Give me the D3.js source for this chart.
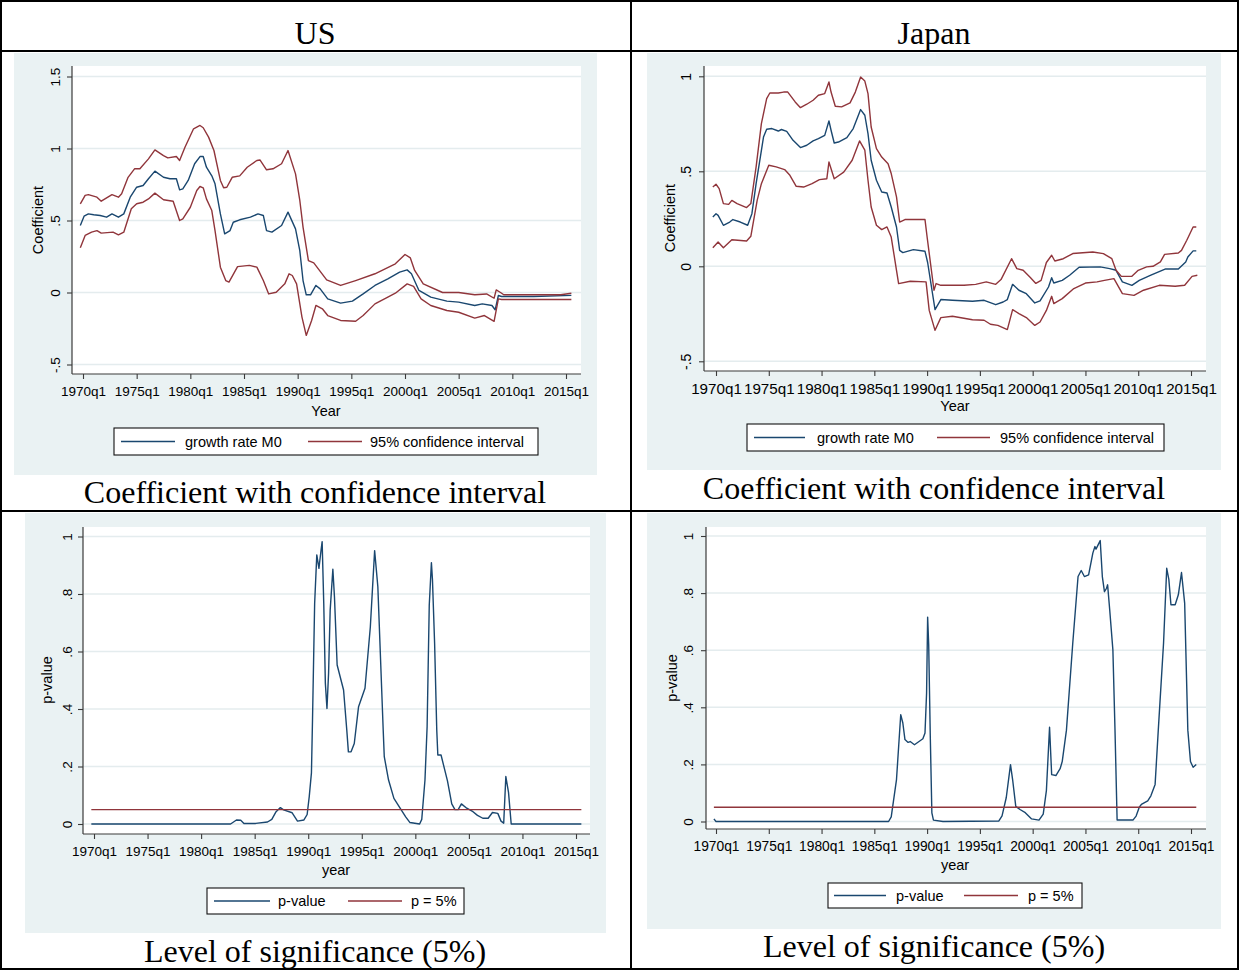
<!DOCTYPE html>
<html>
<head>
<meta charset="utf-8">
<script src="https://cdn.jsdelivr.net/npm/d3@7"></script>
<style>
  body { margin: 0; background: #fff; }
  svg { display: block; }
</style>
</head>
<body>
<svg id="chart" width="1239" height="970"></svg>
<script>
// ---------- data (decimal year, value) ----------
const tickYears = [1970, 1975, 1980, 1985, 1990, 1995, 2000, 2005, 2010, 2015];
const tickLabels = ["1970q1", "1975q1", "1980q1", "1985q1", "1990q1", "1995q1", "2000q1", "2005q1", "2010q1", "2015q1"];

const coefTicksUS = [-0.5, 0, 0.5, 1, 1.5];
const coefTickLabelsUS = ["-.5", "0", ".5", "1", "1.5"];
const coefTicksJP = [-0.5, 0, 0.5, 1];
const coefTickLabelsJP = ["-.5", "0", ".5", "1"];
const pTicks = [0, 0.2, 0.4, 0.6, 0.8, 1];
const pTickLabels = ["0", ".2", ".4", ".6", ".8", "1"];

const pThreshold = 0.05;

// US: rolling coefficient on M0 growth and its 95% band
const usCoef = [
  [1969.75, 0.465], [1970.1, 0.53], [1970.5, 0.546], [1971.0, 0.54], [1971.6, 0.535], [1972.2, 0.523],
  [1972.7, 0.546], [1973.3, 0.523], [1973.8, 0.546], [1974.4, 0.662], [1975.0, 0.731], [1975.6, 0.743],
  [1976.1, 0.79], [1976.7, 0.843], [1977.5, 0.80], [1978.1, 0.79], [1978.7, 0.79], [1979.0, 0.713],
  [1979.3, 0.72], [1979.8, 0.778], [1980.4, 0.894], [1980.9, 0.944], [1981.2, 0.944], [1981.5, 0.87],
  [1982.0, 0.81], [1982.3, 0.755], [1982.8, 0.546], [1983.2, 0.407], [1983.7, 0.43], [1984.0, 0.488],
  [1984.6, 0.505], [1985.6, 0.523], [1986.3, 0.546], [1986.8, 0.535], [1987.1, 0.43], [1987.6, 0.419],
  [1988.5, 0.465], [1989.1, 0.558], [1989.8, 0.442], [1990.2, 0.29], [1990.5, 0.083], [1990.8, -0.016],
  [1991.2, -0.016], [1991.7, 0.049], [1992.1, 0.025], [1992.8, -0.044], [1994.0, -0.074], [1995.1, -0.06],
  [1996.1, -0.01], [1997.2, 0.049], [1998.4, 0.095], [1999.5, 0.141], [2000.2, 0.157], [2000.6, 0.13],
  [2001.3, 0.014], [2002.4, -0.032], [2003.9, -0.06], [2005.0, -0.067], [2006.5, -0.09], [2007.2, -0.079],
  [2008.1, -0.09], [2008.4, -0.12], [2008.7, -0.021], [2009.0, -0.028], [2012.0, -0.028], [2015.5, -0.02]
];
const usUpper = [
  [1969.75, 0.616], [1970.2, 0.674], [1970.5, 0.68], [1971.3, 0.662], [1971.7, 0.634], [1972.7, 0.68],
  [1973.3, 0.662], [1973.6, 0.685], [1974.2, 0.80], [1974.8, 0.859], [1975.3, 0.859], [1976.1, 0.928],
  [1976.7, 0.99], [1977.5, 0.951], [1977.9, 0.935], [1978.7, 0.944], [1979.0, 0.917], [1979.5, 1.009],
  [1980.3, 1.137], [1980.9, 1.16], [1981.2, 1.144], [1981.7, 1.079], [1982.2, 0.986], [1982.8, 0.778],
  [1983.1, 0.727], [1983.4, 0.731], [1983.9, 0.80], [1984.6, 0.81], [1985.3, 0.87], [1986.2, 0.917],
  [1986.5, 0.92], [1987.1, 0.852], [1987.7, 0.859], [1988.5, 0.894], [1989.1, 0.986], [1989.8, 0.824],
  [1990.2, 0.639], [1990.5, 0.454], [1991.0, 0.222], [1991.5, 0.206], [1992.7, 0.088], [1994.0, 0.049],
  [1995.4, 0.083], [1997.2, 0.13], [1999.1, 0.199], [2000.0, 0.264], [2000.5, 0.24], [2000.9, 0.153],
  [2001.7, 0.06], [2003.5, 0.0], [2005.0, 0.0], [2006.5, -0.016], [2007.6, -0.01], [2008.3, -0.04],
  [2008.5, 0.018], [2008.9, 0.0], [2009.2, -0.016], [2014.5, -0.016], [2015.5, -0.005]
];
const usLower = [
  [1969.75, 0.31], [1970.2, 0.396], [1970.8, 0.419], [1971.3, 0.43], [1971.7, 0.412], [1972.8, 0.419],
  [1973.3, 0.40], [1973.8, 0.419], [1974.5, 0.581], [1975.0, 0.616], [1975.6, 0.627], [1976.1, 0.65],
  [1976.7, 0.69], [1977.5, 0.644], [1978.4, 0.634], [1979.0, 0.50], [1979.3, 0.512], [1980.0, 0.592],
  [1980.6, 0.708], [1980.9, 0.736], [1981.2, 0.727], [1981.5, 0.65], [1982.0, 0.569], [1982.3, 0.43],
  [1982.8, 0.176], [1983.3, 0.083], [1983.6, 0.072], [1984.4, 0.18], [1985.5, 0.188], [1986.2, 0.176],
  [1986.8, 0.083], [1987.3, -0.01], [1988.0, 0.002], [1988.8, 0.06], [1989.2, 0.13], [1989.5, 0.118],
  [1989.9, 0.06], [1990.4, -0.171], [1990.8, -0.298], [1991.3, -0.194], [1991.7, -0.09], [1992.3, -0.113],
  [1992.8, -0.16], [1994.0, -0.194], [1995.4, -0.2], [1996.1, -0.16], [1997.2, -0.079], [1998.4, -0.032],
  [1999.1, -0.005], [2000.2, 0.06], [2000.8, 0.042], [2001.5, -0.044], [2002.4, -0.09], [2003.9, -0.125],
  [2005.0, -0.137], [2006.5, -0.178], [2007.4, -0.16], [2008.3, -0.2], [2008.7, -0.044], [2009.0, -0.049],
  [2015.5, -0.049]
];

// Japan: rolling coefficient on M0 growth and its 95% band
const jpCoef = [
  [1969.7, 0.26], [1970.0, 0.277], [1970.2, 0.268], [1970.7, 0.216], [1971.3, 0.233], [1971.6, 0.246],
  [1972.3, 0.233], [1973.0, 0.216], [1973.4, 0.277], [1973.8, 0.435], [1974.2, 0.575], [1974.5, 0.68],
  [1974.8, 0.721], [1975.3, 0.725], [1975.9, 0.712], [1976.2, 0.72], [1976.7, 0.71], [1977.3, 0.663],
  [1978.0, 0.625], [1978.6, 0.637], [1979.2, 0.66], [1979.7, 0.672], [1980.3, 0.689], [1980.7, 0.765],
  [1980.9, 0.716], [1981.2, 0.649], [1981.6, 0.654], [1982.4, 0.677], [1983.0, 0.725], [1983.7, 0.825],
  [1984.1, 0.795], [1984.4, 0.698], [1984.7, 0.558], [1985.2, 0.453], [1985.7, 0.391], [1986.2, 0.386],
  [1986.6, 0.312], [1987.1, 0.207], [1987.4, 0.084], [1987.7, 0.072], [1988.7, 0.088], [1989.8, 0.079],
  [1990.05, 0.02], [1990.75, -0.228], [1991.3, -0.175], [1992.4, -0.179], [1994.3, -0.184], [1995.4, -0.179],
  [1996.5, -0.202], [1997.2, -0.188], [1997.6, -0.175], [1998.1, -0.095], [1998.7, -0.126], [1999.4, -0.144],
  [2000.2, -0.193], [2000.7, -0.182], [2001.5, -0.109], [2001.8, -0.06], [2002.0, -0.088], [2002.8, -0.074],
  [2003.5, -0.047], [2004.4, -0.005], [2006.4, -0.003], [2007.3, -0.012], [2007.9, -0.021], [2008.5, -0.082],
  [2009.4, -0.1], [2010.1, -0.074], [2011.2, -0.047], [2012.6, -0.014], [2013.8, -0.014], [2014.5, 0.023],
  [2014.7, 0.049], [2015.2, 0.081], [2015.5, 0.081]
];
const jpUpper = [
  [1969.7, 0.417], [1970.0, 0.432], [1970.3, 0.409], [1970.7, 0.33], [1971.2, 0.326], [1971.5, 0.347],
  [1972.0, 0.33], [1972.9, 0.309], [1973.3, 0.33], [1973.8, 0.523], [1974.3, 0.751], [1974.8, 0.883],
  [1975.1, 0.912], [1975.9, 0.912], [1976.4, 0.917], [1976.8, 0.917], [1977.5, 0.865], [1978.0, 0.835],
  [1978.6, 0.853], [1979.2, 0.874], [1979.7, 0.90], [1980.3, 0.909], [1980.7, 0.97], [1980.9, 0.917],
  [1981.3, 0.842], [1981.9, 0.839], [1982.7, 0.86], [1983.2, 0.917], [1983.7, 0.996], [1984.1, 0.975],
  [1984.4, 0.909], [1984.7, 0.733], [1985.2, 0.619], [1985.7, 0.575], [1986.3, 0.54], [1986.6, 0.488],
  [1987.1, 0.365], [1987.4, 0.233], [1987.9, 0.246], [1989.8, 0.246], [1990.0, 0.154], [1990.65, -0.126],
  [1990.85, -0.091], [1991.3, -0.1], [1993.5, -0.1], [1994.6, -0.095], [1995.6, -0.082], [1996.5, -0.095],
  [1997.0, -0.07], [1998.0, 0.04], [1998.5, -0.012], [1999.1, -0.021], [1999.8, -0.06], [2000.3, -0.09],
  [2000.8, -0.074], [2001.3, 0.02], [2001.8, 0.058], [2002.1, 0.028], [2002.9, 0.04], [2003.8, 0.067],
  [2005.7, 0.075], [2006.7, 0.067], [2007.5, 0.04], [2007.9, -0.021], [2008.4, -0.053], [2009.4, -0.053],
  [2010.0, -0.021], [2010.8, -0.003], [2011.4, 0.0], [2012.1, 0.023], [2012.5, 0.063], [2013.8, 0.07],
  [2014.1, 0.084], [2014.6, 0.137], [2015.2, 0.207], [2015.5, 0.207]
];
const jpLower = [
  [1969.7, 0.098], [1970.2, 0.128], [1970.7, 0.098], [1971.5, 0.14], [1972.9, 0.133], [1973.3, 0.158],
  [1973.9, 0.347], [1974.3, 0.435], [1975.0, 0.532], [1975.7, 0.523], [1976.5, 0.509], [1977.0, 0.479],
  [1977.6, 0.421], [1978.3, 0.417], [1979.1, 0.435], [1979.8, 0.456], [1980.5, 0.461], [1980.7, 0.549],
  [1981.2, 0.461], [1982.1, 0.496], [1982.9, 0.558], [1983.6, 0.66], [1984.1, 0.611], [1984.4, 0.453],
  [1984.7, 0.312], [1985.2, 0.216], [1985.7, 0.193], [1986.2, 0.207], [1986.6, 0.154], [1987.1, -0.021],
  [1987.3, -0.091], [1988.4, -0.079], [1989.9, -0.082], [1990.2, -0.232], [1990.75, -0.337], [1991.3, -0.27],
  [1992.4, -0.263], [1994.3, -0.281], [1995.4, -0.284], [1996.0, -0.305], [1996.7, -0.311], [1997.6, -0.333],
  [1998.1, -0.228], [1998.7, -0.249], [1999.4, -0.27], [2000.2, -0.311], [2000.7, -0.293], [2001.3, -0.232],
  [2001.8, -0.158], [2002.0, -0.196], [2002.8, -0.17], [2003.9, -0.117], [2005.0, -0.088], [2006.1, -0.082],
  [2006.8, -0.074], [2007.7, -0.065], [2008.5, -0.144], [2009.6, -0.153], [2010.5, -0.126], [2012.0, -0.1],
  [2013.5, -0.105], [2014.4, -0.1], [2015.1, -0.053], [2015.6, -0.047]
];

// p-values of the M0 coefficient
const usPValue = [
  [1969.75, 0.0], [1982.75, 0.0], [1983.3, 0.014], [1983.7, 0.013], [1984.0, 0.002], [1985.1, 0.002],
  [1986.2, 0.007], [1986.6, 0.016], [1987.0, 0.043], [1987.4, 0.057], [1987.7, 0.049], [1988.5, 0.039],
  [1989.0, 0.01], [1989.6, 0.014], [1989.9, 0.033], [1990.1, 0.097], [1990.3, 0.178], [1990.4, 0.362],
  [1990.6, 0.768], [1990.8, 0.936], [1991.0, 0.889], [1991.2, 0.953], [1991.3, 0.982], [1991.45, 0.768],
  [1991.6, 0.489], [1991.75, 0.402], [1991.9, 0.524], [1992.05, 0.744], [1992.3, 0.886], [1992.45, 0.79],
  [1992.7, 0.553], [1993.3, 0.466], [1993.6, 0.327], [1993.75, 0.251], [1994.0, 0.251], [1994.3, 0.28],
  [1994.7, 0.408], [1995.3, 0.472], [1995.8, 0.686], [1996.2, 0.951], [1996.5, 0.825], [1997.0, 0.327],
  [1997.1, 0.234], [1997.5, 0.153], [1998.0, 0.089], [1998.4, 0.066], [1999.1, 0.025], [1999.5, 0.005],
  [2000.4, 0.0], [2000.6, 0.016], [2000.9, 0.153], [2001.1, 0.338], [2001.3, 0.762], [2001.5, 0.909],
  [2001.6, 0.849], [2001.8, 0.628], [2002.0, 0.327], [2002.1, 0.24], [2002.4, 0.24], [2003.0, 0.15],
  [2003.4, 0.07], [2003.7, 0.05], [2004.0, 0.05], [2004.3, 0.07], [2004.8, 0.055], [2005.3, 0.045],
  [2005.8, 0.03], [2006.3, 0.02], [2006.8, 0.02], [2007.2, 0.04], [2007.7, 0.037], [2008.0, 0.01],
  [2008.25, 0.003], [2008.45, 0.165], [2008.7, 0.11], [2008.95, 0.0], [2015.5, 0.0]
];
const jpPValue = [
  [1969.8, 0.009], [1970.0, 0.0], [1986.35, 0.0], [1986.6, 0.016], [1987.1, 0.147], [1987.5, 0.374],
  [1987.7, 0.345], [1987.9, 0.287], [1988.2, 0.277], [1988.4, 0.28], [1988.8, 0.269], [1989.6, 0.29],
  [1989.8, 0.31], [1989.95, 0.45], [1990.05, 0.716], [1990.15, 0.62], [1990.3, 0.3], [1990.45, 0.03],
  [1990.6, 0.005], [1991.5, 0.0], [1996.8, 0.002], [1997.1, 0.02], [1997.5, 0.084], [1997.9, 0.199],
  [1998.1, 0.147], [1998.4, 0.053], [1998.8, 0.042], [1999.3, 0.031], [1999.9, 0.009], [2000.6, 0.005],
  [2001.0, 0.026], [2001.3, 0.108], [2001.6, 0.33], [2001.8, 0.164], [2002.2, 0.161], [2002.6, 0.185],
  [2002.8, 0.21], [2003.2, 0.32], [2003.8, 0.625], [2004.3, 0.858], [2004.6, 0.879], [2004.9, 0.858],
  [2005.3, 0.864], [2005.7, 0.94], [2005.9, 0.963], [2006.0, 0.954], [2006.2, 0.969], [2006.4, 0.984],
  [2006.6, 0.858], [2006.8, 0.805], [2007.0, 0.817], [2007.1, 0.829], [2007.3, 0.741], [2007.6, 0.601],
  [2007.8, 0.32], [2008.0, 0.005], [2009.5, 0.005], [2009.8, 0.019], [2010.1, 0.05], [2010.3, 0.06],
  [2010.9, 0.072], [2011.2, 0.09], [2011.6, 0.13], [2011.9, 0.32], [2012.4, 0.625], [2012.7, 0.887],
  [2012.9, 0.848], [2013.1, 0.759], [2013.5, 0.759], [2013.8, 0.794], [2014.1, 0.872], [2014.4, 0.765],
  [2014.7, 0.32], [2014.95, 0.21], [2015.2, 0.19], [2015.5, 0.2]
];

// ---------- styling ----------
const NAVY = "#1a476f";
const MAROON = "#90353b";
const GRAPH_BG = "#eaf2f3";
const GRID = "#e4ecee";
const AXIS = "#3a3a3a";
const SANS = "'Liberation Sans', Arial, sans-serif";
const SERIF = "'Liberation Serif', 'Times New Roman', serif";
const SERIF_SIZE = "32px";

const svg = d3.select("#chart");

// table frame
const frame = svg.append("g").attr("stroke", "#000").attr("stroke-width", 2).attr("fill", "none");
frame.append("rect").attr("x", 1).attr("y", 1).attr("width", 1237).attr("height", 968);
frame.append("line").attr("x1", 631).attr("x2", 631).attr("y1", 0).attr("y2", 970);
frame.append("line").attr("x1", 0).attr("x2", 1239).attr("y1", 51).attr("y2", 51);
frame.append("line").attr("x1", 0).attr("x2", 1239).attr("y1", 511).attr("y2", 511);

svg.append("text").attr("x", 315).attr("y", 44).attr("text-anchor", "middle")
  .style("font-family", SERIF).style("font-size", SERIF_SIZE).text("US");
svg.append("text").attr("x", 934).attr("y", 44).attr("text-anchor", "middle")
  .style("font-family", SERIF).style("font-size", SERIF_SIZE).text("Japan");

function drawPanel(p) {
  const g = svg.append("g");
  g.append("rect").attr("x", p.bg[0]).attr("y", p.bg[1])
    .attr("width", p.bg[2] - p.bg[0]).attr("height", p.bg[3] - p.bg[1]).attr("fill", GRAPH_BG);
  const [px0, py0, px1, py1] = p.plot;
  g.append("rect").attr("x", px0).attr("y", py0).attr("width", px1 - px0).attr("height", py1 - py0).attr("fill", "#fff");

  const x = d3.scaleLinear().domain([tickYears[0], tickYears[tickYears.length - 1]]).range(p.xr);
  const y = d3.scaleLinear().domain([p.yTicks[0], p.yTicks[p.yTicks.length - 1]]).range(p.yr);

  // horizontal grid
  g.append("g").selectAll("line").data(p.yTicks).join("line")
    .attr("x1", px0).attr("x2", px1)
    .attr("y1", d => y(d)).attr("y2", d => y(d))
    .attr("stroke", GRID).attr("stroke-width", 1.5);

  // series
  const line = d3.line().x(d => x(d[0])).y(d => y(d[1]));
  p.series.forEach(s => {
    g.append("path").attr("d", line(s.data)).attr("fill", "none")
      .attr("stroke", s.color).attr("stroke-width", 1.4)
      .attr("stroke-linejoin", "round");
  });

  // y axis
  const yAxis = d3.axisLeft(y).tickValues(p.yTicks)
    .tickFormat((d, i) => p.yLabels[i]).tickSize(5).tickSizeOuter(0);
  const ya = g.append("g").attr("transform", `translate(${px0},0)`).call(yAxis);
  ya.select(".domain").remove();
  ya.selectAll(".tick line").attr("stroke", AXIS).attr("stroke-width", 1.1);
  ya.selectAll(".tick text")
    .attr("transform", "rotate(-90)").attr("x", 0).attr("y", -p.yLabelGap).attr("dy", 0)
    .attr("text-anchor", "middle")
    .style("font-family", SANS).style("font-size", p.yFont + "px").attr("fill", "#000");

  // x axis
  const xAxis = d3.axisBottom(x).tickValues(tickYears)
    .tickFormat((d, i) => tickLabels[i]).tickSize(5).tickSizeOuter(0);
  const xa = g.append("g").attr("transform", `translate(0,${py1})`).call(xAxis);
  xa.select(".domain").remove();
  xa.selectAll(".tick line").attr("stroke", AXIS).attr("stroke-width", 1.1);
  xa.selectAll(".tick text").attr("y", p.xLabelBase - py1).attr("dy", 0)
    .style("font-family", SANS).style("font-size", p.xFont + "px").attr("fill", "#000");

  // axis lines along the plot region
  g.append("line").attr("x1", px0).attr("x2", px0).attr("y1", py0).attr("y2", py1)
    .attr("stroke", AXIS).attr("stroke-width", 1.2);
  g.append("line").attr("x1", px0).attr("x2", px1).attr("y1", py1).attr("y2", py1)
    .attr("stroke", AXIS).attr("stroke-width", 1.2);

  // axis titles
  g.append("text").attr("x", p.xTitle[0]).attr("y", p.xTitle[1]).attr("text-anchor", "middle")
    .style("font-family", SANS).style("font-size", "14.5px").text(p.xTitleText);
  g.append("text").attr("transform", `translate(${p.yTitle[0]},${p.yTitle[1]}) rotate(-90)`)
    .attr("text-anchor", "middle")
    .style("font-family", SANS).style("font-size", "14.5px").text(p.yTitleText);

  // legend
  const [lx0, ly0, lx1, ly1] = p.legend.box;
  const lg = g.append("g");
  lg.append("rect").attr("x", lx0).attr("y", ly0).attr("width", lx1 - lx0).attr("height", ly1 - ly0)
    .attr("fill", "#fff").attr("stroke", "#111").attr("stroke-width", 1.1);
  const ly = (ly0 + ly1) / 2;
  p.legend.items.forEach((it, i) => {
    lg.append("line").attr("x1", it.x1).attr("x2", it.x2).attr("y1", ly).attr("y2", ly)
      .attr("stroke", p.series[i].color).attr("stroke-width", 1.4);
    lg.append("text").attr("x", it.tx).attr("y", ly + 5)
      .style("font-family", SANS).style("font-size", "14.5px").text(p.series[i].label);
  });

  // caption under the graph
  svg.append("text").attr("x", p.caption[0]).attr("y", p.caption[1]).attr("text-anchor", "middle")
    .style("font-family", SERIF).style("font-size", SERIF_SIZE).text(p.captionText);
}

const spanUS = [usPValue[0][0], usPValue[usPValue.length - 1][0]];
const spanJP = [jpPValue[0][0], jpPValue[jpPValue.length - 1][0]];

drawPanel({
  bg: [14, 53, 597, 475], plot: [72, 66, 581, 374], xr: [83, 566], yr: [364.5, 76.5],
  yTicks: coefTicksUS, yLabels: coefTickLabelsUS, yLabelGap: 12, yFont: 13.5,
  xFont: 13.5, xLabelBase: 396,
  xTitle: [326, 416], xTitleText: "Year", yTitle: [43, 220], yTitleText: "Coefficient",
  series: [
    { data: usCoef, color: NAVY, label: "growth rate M0" },
    { data: usUpper, color: MAROON, label: "95% confidence interval" },
    { data: usLower, color: MAROON, label: "" }
  ],
  legend: { box: [114, 428, 538, 455], items: [{ x1: 121, x2: 175, tx: 185 }, { x1: 308, x2: 362, tx: 370 }] },
  caption: [315, 503], captionText: "Coefficient with confidence interval"
});

drawPanel({
  bg: [647, 53, 1221, 470], plot: [704, 66, 1206, 371], xr: [716, 1191], yr: [361.3, 76.3],
  yTicks: coefTicksJP, yLabels: coefTickLabelsJP, yLabelGap: 13, yFont: 14,
  xFont: 15.2, xLabelBase: 393.5,
  xTitle: [955, 411], xTitleText: "Year", yTitle: [675, 218], yTitleText: "Coefficient",
  series: [
    { data: jpCoef, color: NAVY, label: "growth rate M0" },
    { data: jpUpper, color: MAROON, label: "95% confidence interval" },
    { data: jpLower, color: MAROON, label: "" }
  ],
  legend: { box: [747, 424, 1164, 451], items: [{ x1: 754, x2: 805, tx: 817 }, { x1: 937, x2: 990, tx: 1000 }] },
  caption: [934, 499], captionText: "Coefficient with confidence interval"
});

drawPanel({
  bg: [25, 513, 606, 933], plot: [83, 527, 590, 834], xr: [94, 576], yr: [824, 536.5],
  yTicks: pTicks, yLabels: pTickLabels, yLabelGap: 11, yFont: 13.5,
  xFont: 13.5, xLabelBase: 856,
  xTitle: [336, 875], xTitleText: "year", yTitle: [52, 680], yTitleText: "p-value",
  series: [
    { data: usPValue, color: NAVY, label: "p-value" },
    { data: spanUS.map(t => [t, pThreshold]), color: MAROON, label: "p = 5%" }
  ],
  legend: { box: [207, 888, 464, 914], items: [{ x1: 214, x2: 270, tx: 278 }, { x1: 348, x2: 402, tx: 411 }] },
  caption: [315, 962], captionText: "Level of significance (5%)"
});

drawPanel({
  bg: [647, 513, 1221, 929], plot: [706, 527, 1206, 829], xr: [716, 1191], yr: [821.5, 536],
  yTicks: pTicks, yLabels: pTickLabels, yLabelGap: 13, yFont: 13.5,
  xFont: 13.8, xLabelBase: 851,
  xTitle: [955, 870], xTitleText: "year", yTitle: [677, 678], yTitleText: "p-value",
  series: [
    { data: jpPValue, color: NAVY, label: "p-value" },
    { data: spanJP.map(t => [t, pThreshold]), color: MAROON, label: "p = 5%" }
  ],
  legend: { box: [828, 883, 1082, 908], items: [{ x1: 834, x2: 886, tx: 896 }, { x1: 964, x2: 1018, tx: 1028 }] },
  caption: [934, 957], captionText: "Level of significance (5%)"
});
</script>
</body>
</html>
